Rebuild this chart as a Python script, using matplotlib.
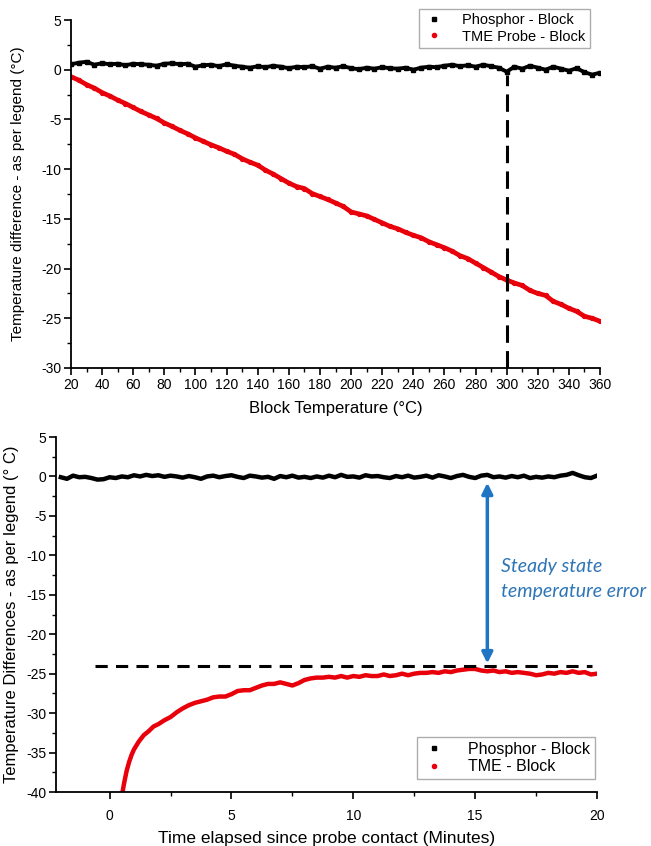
import numpy as np
import matplotlib
matplotlib.use("Agg")
import matplotlib.pyplot as plt
from matplotlib.lines import Line2D
from matplotlib.ticker import MultipleLocator

plt.rcParams['font.family'] = ['Liberation Sans', 'DejaVu Sans']
plt.rcParams['axes.unicode_minus'] = False

# ---- top panel: difference vs block temperature ----
block_temp = np.arange(20, 361, 5)
phosphor_top = [0.55, 0.70, 0.80, 0.50,
                0.65, 0.55, 0.60, 0.45,
                0.60, 0.55, 0.50, 0.40,
                0.60, 0.65, 0.55, 0.60,
                0.30, 0.45, 0.50, 0.35,
                0.55, 0.40, 0.30, 0.20,
                0.35, 0.25, 0.40, 0.30,
                0.15, 0.30, 0.25, 0.35,
                0.10, 0.30, 0.20, 0.35,
                0.15, 0.05, 0.20, 0.10,
                0.25, 0.15, 0.10, 0.20,
                0.00, 0.20, 0.30, 0.25,
                0.40, 0.50, 0.35, 0.45,
                0.30, 0.50, 0.35, 0.20,
                -0.20, 0.30, 0.10, 0.40,
                0.20, 0.00, 0.30, 0.10,
                -0.10, 0.15, -0.25, -0.50,
                -0.30]
tme_top = [-0.70, -1.05, -1.50, -1.85,
           -2.30, -2.65, -3.05, -3.40,
           -3.80, -4.20, -4.55, -4.90,
           -5.35, -5.70, -6.10, -6.45,
           -6.85, -7.20, -7.55, -7.85,
           -8.20, -8.50, -8.95, -9.30,
           -9.60, -10.10, -10.50, -10.95,
           -11.40, -11.75, -11.95, -12.45,
           -12.75, -13.05, -13.40, -13.75,
           -14.30, -14.50, -14.70, -15.05,
           -15.40, -15.75, -16.00, -16.35,
           -16.65, -16.90, -17.30, -17.60,
           -17.90, -18.25, -18.70, -19.00,
           -19.45, -19.90, -20.35, -20.80,
           -21.15, -21.45, -21.70, -22.20,
           -22.50, -22.70, -23.30, -23.60,
           -24.00, -24.30, -24.80, -25.00,
           -25.30]

# ---- bottom panel: difference vs time ----
time_black = np.arange(-2.0, 20.01, 0.25)
phosphor_bot = [-0.10, -0.30, 0.10, -0.10,
                -0.05, -0.20, -0.40, -0.35,
                -0.10, -0.20, 0.00, -0.10,
                0.15, 0.00, 0.20, 0.05,
                0.15, -0.05, 0.10, 0.00,
                -0.15, 0.05, -0.10, -0.30,
                0.00, 0.10, -0.10, 0.05,
                0.15, -0.05, -0.20, 0.10,
                0.00, -0.15, -0.05, -0.30,
                0.05, -0.10, 0.10, -0.15,
                -0.05, -0.20, 0.00, -0.15,
                0.10, -0.10, 0.20, -0.05,
                0.00, -0.15, 0.15, 0.00,
                0.05, -0.10, -0.20, 0.05,
                -0.10, 0.10, -0.15, -0.05,
                0.10, -0.15, 0.15, 0.00,
                -0.20, 0.05, 0.20, -0.05,
                -0.20, 0.10, 0.20, -0.10,
                0.00, -0.15, 0.05, -0.10,
                0.10, -0.20, -0.05, -0.15,
                0.00, -0.10, 0.10, 0.20,
                0.45, 0.15, -0.10, -0.20,
                0.10]
time_red = np.concatenate([[0.5, 0.6, 0.7, 0.8, 0.9, 1.0, 1.2, 1.4, 1.6, 1.8, 2.0],
                           np.arange(2.25, 20.01, 0.25)])
tme_bot = [-40.5, -38.8, -37.3, -36.2, -35.3, -34.6, -33.6, -32.8, -32.3, -31.7, -31.4,
           -30.9, -30.5, -29.9, -29.4,
           -29.0, -28.7, -28.5, -28.3,
           -28.0, -27.9, -27.9, -27.6,
           -27.2, -27.1, -27.1, -26.8,
           -26.5, -26.3, -26.3, -26.1,
           -26.3, -26.5, -26.2, -25.8,
           -25.6, -25.5, -25.5, -25.4,
           -25.5, -25.3, -25.5, -25.3,
           -25.4, -25.2, -25.3, -25.3,
           -25.1, -25.3, -25.2, -25.0,
           -25.2, -25.0, -24.9, -24.9,
           -24.8, -24.9, -24.7, -24.8,
           -24.6, -24.5, -24.4, -24.4,
           -24.6, -24.7, -24.6, -24.8,
           -24.7, -24.9, -24.8, -24.9,
           -25.0, -25.2, -25.1, -24.9,
           -25.0, -24.8, -24.9, -24.7,
           -24.9, -24.8, -25.1, -25.0]

steady_level = -24.0
cutoff_temp = 300

fig = plt.figure(figsize=(6.51, 8.46), dpi=100)
ax1 = fig.add_axes([71/651, 1-368/846, 529/651, 348/846])
ax2 = fig.add_axes([56/651, 1-792/846, 541/651, 355/846])

for ax in (ax1, ax2):
    ax.spines['top'].set_visible(False)
    ax.spines['right'].set_visible(False)
    ax.spines['left'].set_linewidth(1.3)
    ax.spines['bottom'].set_linewidth(1.3)
    ax.tick_params(which='major', direction='out', length=5, width=1.2, pad=2, labelsize=10)
    ax.tick_params(which='minor', direction='out', length=3, width=1.0)

# top panel
ax1.plot(block_temp, phosphor_top, color='black', lw=2.8, marker='s', ms=2.8)
ax1.plot(block_temp, tme_top, color='#e8000b', lw=3.4, marker='o', ms=2.8)
ax1.plot([cutoff_temp, cutoff_temp], [-30, -0.5], color='black', lw=2.2,
         dashes=(5.7, 2.7), zorder=5)
ax1.set_xlim(20, 360)
ax1.set_ylim(-30, 5)
ax1.xaxis.set_major_locator(MultipleLocator(20))
ax1.xaxis.set_minor_locator(MultipleLocator(10))
ax1.yaxis.set_major_locator(MultipleLocator(5))
ax1.yaxis.set_minor_locator(MultipleLocator(2.5))
ax1.set_xlabel('Block Temperature (°C)', fontsize=12, labelpad=7)
ax1.set_ylabel('Temperature difference - as per legend (°C)', fontsize=11)
ax1.yaxis.set_label_coords(-0.087, 0.5)

h_top = [Line2D([], [], color='black', marker='s', ms=3, ls='none'),
         Line2D([], [], color='#e8000b', marker='o', ms=3, ls='none')]
leg1 = ax1.legend(h_top, ['Phosphor - Block', 'TME Probe - Block'],
                  loc='upper right', bbox_to_anchor=(590/651, 1-9/846),
                  bbox_transform=fig.transFigure, borderaxespad=0,
                  fontsize=10.5, fancybox=False, handlelength=1.5,
                  borderpad=0.3, labelspacing=0.15, handletextpad=1.2)
leg1.get_frame().set_edgecolor('#999999')
leg1.get_frame().set_linewidth(1.0)

# bottom panel
ax2.plot(time_black, phosphor_bot, color='black', lw=3.2)
ax2.plot(time_red, tme_bot, color='#e8000b', lw=3.2)
ax2.plot([-0.6, 19.8], [steady_level, steady_level], color='black', lw=2.2,
         dashes=(4, 2.7))
ax2.annotate('', xy=(15.5, -23.7), xytext=(15.5, -0.8),
             arrowprops=dict(arrowstyle='<|-|>', color='#1f74c4', lw=2.5,
                             mutation_scale=16, shrinkA=0, shrinkB=0))
ax2.text(16.05, -13.0, 'Steady state\ntemperature error', color='#2e75b6',
         style='italic', fontsize=14, family=['Lato', 'DejaVu Sans'],
         va='center', ha='left', linespacing=1.55, clip_on=False)
ax2.set_xlim(-2.2, 20)
ax2.set_ylim(-40, 5)
ax2.xaxis.set_major_locator(MultipleLocator(5))
ax2.xaxis.set_minor_locator(MultipleLocator(2.5))
ax2.yaxis.set_major_locator(MultipleLocator(5))
ax2.yaxis.set_minor_locator(MultipleLocator(2.5))
ax2.tick_params(axis='x', which='major', pad=7)
ax2.set_xlabel('Time elapsed since probe contact (Minutes)', fontsize=12.5, labelpad=6)
ax2.set_ylabel('Temperature Differences - as per legend (° C)', fontsize=12)
ax2.yaxis.set_label_coords(-0.068, 0.5)

h_bot = [Line2D([], [], color='black', marker='s', ms=3, ls='none'),
         Line2D([], [], color='#e8000b', marker='o', ms=3, ls='none')]
leg2 = ax2.legend(h_bot, ['Phosphor - Block', 'TME - Block'],
                  loc='upper right', bbox_to_anchor=(595/651, 1-737/846),
                  bbox_transform=fig.transFigure, borderaxespad=0,
                  fontsize=11.5, fancybox=False, handlelength=1.5,
                  borderpad=0.3, labelspacing=0.15, handletextpad=1.4)
leg2.get_frame().set_edgecolor('#999999')
leg2.get_frame().set_linewidth(1.0)

fig.savefig('out.png', dpi=100)
